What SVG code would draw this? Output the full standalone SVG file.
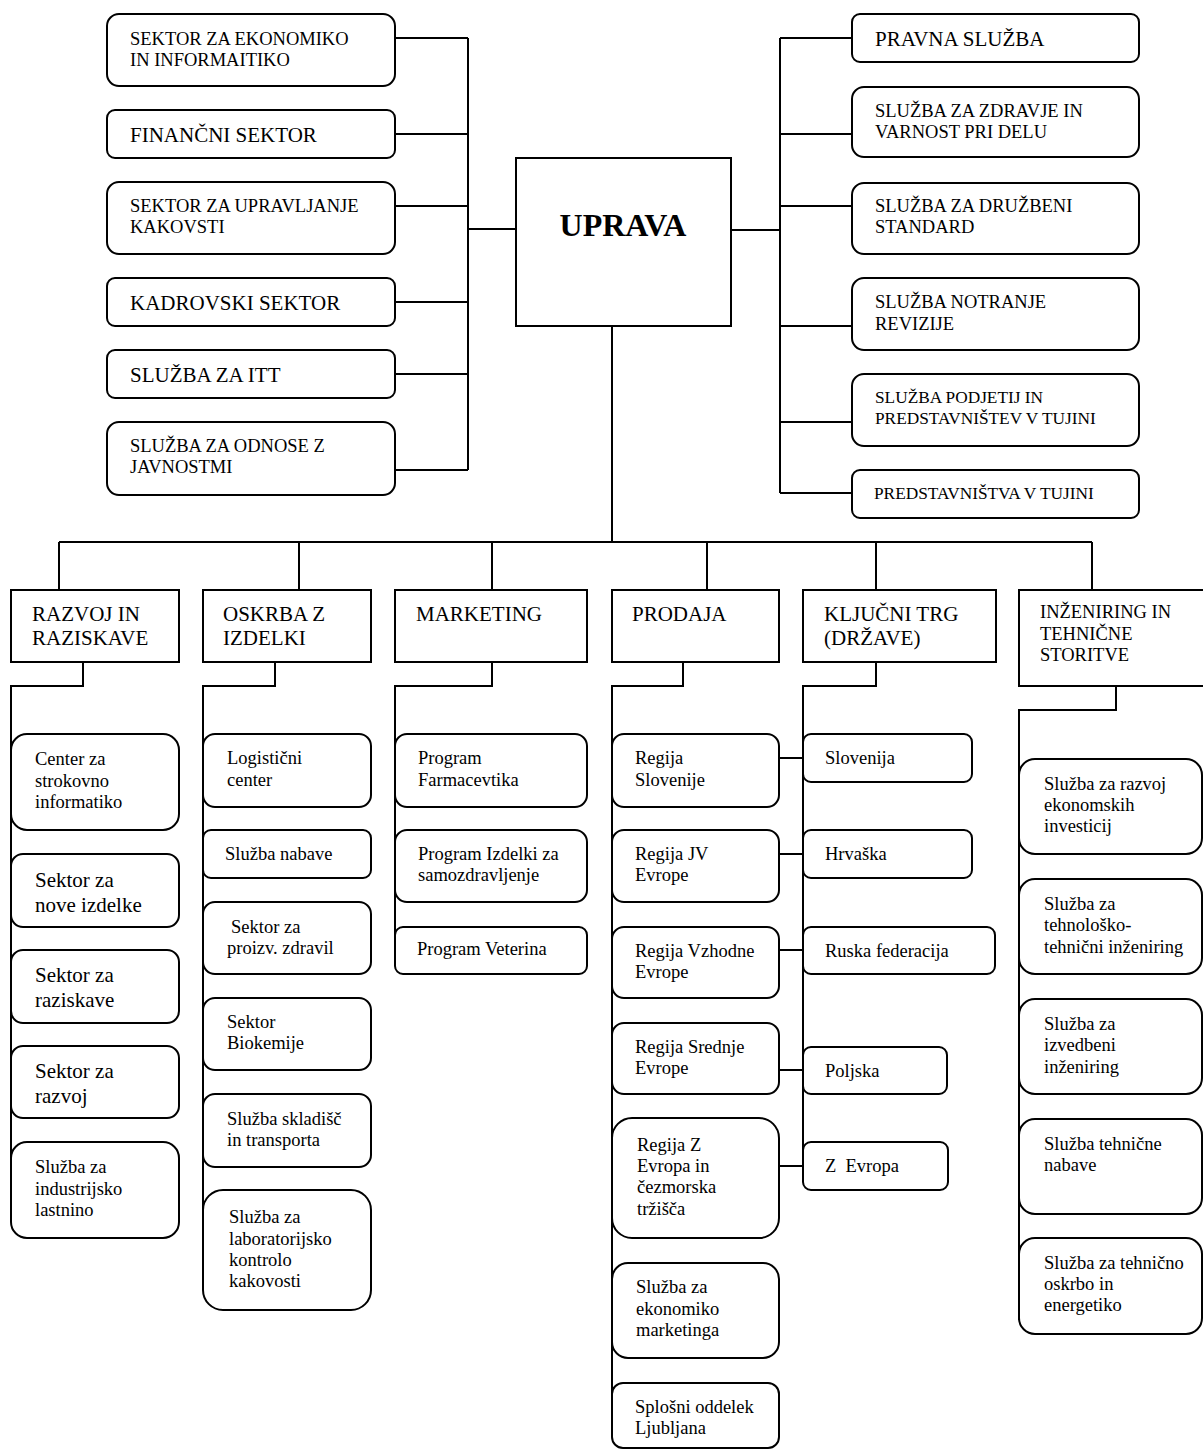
<svg xmlns="http://www.w3.org/2000/svg" width="1203" height="1450" viewBox="0 0 1203 1450">
  <style>
    .box { fill: #fff; stroke: #000; stroke-width: 2; }
    .ln { fill: none; stroke: #000; stroke-width: 2; }
    text { font-family: "Liberation Serif", "Times New Roman", serif; fill: #000; }
    .s { font-size: 18.5px; }
    .m { font-size: 17.3px; }
    .b { font-size: 21px; }
    .top { font-size: 32px; font-weight: bold; text-anchor: middle; }
  </style>
  <rect width="1203" height="1450" fill="#fff"/>

  <!-- connectors -->
  <g id="connectors" class="ln">
    <!-- left staff bus -->
    <polyline points="395,38 468,38"/>
    <polyline points="395,134 468,134"/>
    <polyline points="395,206 468,206"/>
    <polyline points="395,302 468,302"/>
    <polyline points="395,374 468,374"/>
    <polyline points="395,470 468,470"/>
    <polyline points="468,38 468,470"/>
    <polyline points="468,229 516,229"/>
    <!-- right staff bus -->
    <polyline points="731,230 780,230"/>
    <polyline points="780,38 780,493"/>
    <polyline points="780,38 852,38"/>
    <polyline points="780,134 852,134"/>
    <polyline points="780,206 852,206"/>
    <polyline points="780,326 852,326"/>
    <polyline points="780,422 852,422"/>
    <polyline points="780,493 852,493"/>
    <!-- main bus to divisions -->
    <polyline points="612,326 612,542"/>
    <polyline points="59,542 1092,542"/>
    <polyline points="59,542 59,590"/>
    <polyline points="299,542 299,590"/>
    <polyline points="492,542 492,590"/>
    <polyline points="707,542 707,590"/>
    <polyline points="876,542 876,590"/>
    <polyline points="1092,542 1092,590"/>
    <!-- division columns -->
    <polyline points="83,662 83,686 11,686 11,1213"/>
    <polyline points="275,662 275,686 203,686 203,1262"/>
    <polyline points="492,662 492,686 395,686 395,950"/>
    <polyline points="683,662 683,686 612,686 612,1430"/>
    <polyline points="876,662 876,686 803,686 803,1167"/>
    <polyline points="1116,686 1116,710 1019,710 1019,1320"/>
    <!-- sales regions to key markets -->
    <polyline points="779,758 803,758"/>
    <polyline points="779,854 803,854"/>
    <polyline points="779,950 803,950"/>
    <polyline points="779,1070 803,1070"/>
    <polyline points="779,1166 803,1166"/>
  </g>

  <!-- management -->
  <g id="uprava">
    <rect class="box" x="516" y="158" width="215" height="168"/>
    <text class="top" x="623" y="236">UPRAVA</text>
  </g>

  <!-- staff units, left -->
  <g id="sektor-ekonomika">
    <rect class="box" x="107" y="14" width="288" height="72" rx="12"/>
    <text class="s"><tspan x="130" y="45">SEKTOR ZA EKONOMIKO</tspan><tspan x="130" y="66">IN INFORMAITIKO</tspan></text>
  </g>
  <g id="financni-sektor">
    <rect class="box" x="107" y="110" width="288" height="48" rx="8"/>
    <text class="b" x="130" y="142">FINANČNI SEKTOR</text>
  </g>
  <g id="sektor-kakovost">
    <rect class="box" x="107" y="182" width="288" height="72" rx="12"/>
    <text class="s"><tspan x="130" y="212">SEKTOR ZA UPRAVLJANJE</tspan><tspan x="130" y="233">KAKOVSTI</tspan></text>
  </g>
  <g id="kadrovski-sektor">
    <rect class="box" x="107" y="278" width="288" height="48" rx="8"/>
    <text class="b" x="130" y="310">KADROVSKI SEKTOR</text>
  </g>
  <g id="sluzba-itt">
    <rect class="box" x="107" y="350" width="288" height="48" rx="8"/>
    <text class="b" x="130" y="382">SLUŽBA ZA ITT</text>
  </g>
  <g id="sluzba-javnost">
    <rect class="box" x="107" y="422" width="288" height="73" rx="12"/>
    <text class="s"><tspan x="130" y="452">SLUŽBA ZA ODNOSE Z</tspan><tspan x="130" y="473">JAVNOSTMI</tspan></text>
  </g>

  <!-- staff units, right -->
  <g id="pravna-sluzba">
    <rect class="box" x="852" y="14" width="287" height="48" rx="8"/>
    <text class="b" x="875" y="46">PRAVNA SLUŽBA</text>
  </g>
  <g id="sluzba-zdravje">
    <rect class="box" x="852" y="87" width="287" height="70" rx="12"/>
    <text class="s"><tspan x="875" y="117">SLUŽBA ZA ZDRAVJE IN</tspan><tspan x="875" y="138">VARNOST PRI DELU</tspan></text>
  </g>
  <g id="sluzba-standard">
    <rect class="box" x="852" y="183" width="287" height="71" rx="12"/>
    <text class="s"><tspan x="875" y="212">SLUŽBA ZA DRUŽBENI</tspan><tspan x="875" y="233">STANDARD</tspan></text>
  </g>
  <g id="sluzba-revizija">
    <rect class="box" x="852" y="278" width="287" height="72" rx="12"/>
    <text class="s"><tspan x="875" y="308">SLUŽBA NOTRANJE</tspan><tspan x="875" y="330">REVIZIJE</tspan></text>
  </g>
  <g id="sluzba-podjetij">
    <rect class="box" x="852" y="374" width="287" height="72" rx="12"/>
    <text class="m"><tspan x="875" y="403">SLUŽBA PODJETIJ IN</tspan><tspan x="875" y="424">PREDSTAVNIŠTEV V TUJINI</tspan></text>
  </g>
  <g id="predstavnistva">
    <rect class="box" x="852" y="470" width="287" height="48" rx="8"/>
    <text class="m" x="874" y="499">PREDSTAVNIŠTVA V TUJINI</text>
  </g>

  <!-- divisions -->
  <g id="razvoj">
    <rect class="box" x="11" y="590" width="168" height="72"/>
    <text class="b"><tspan x="32" y="621">RAZVOJ IN</tspan><tspan x="32" y="645">RAZISKAVE</tspan></text>
  </g>
  <g id="oskrba">
    <rect class="box" x="203" y="590" width="168" height="72"/>
    <text class="b"><tspan x="223" y="621">OSKRBA Z</tspan><tspan x="223" y="645">IZDELKI</tspan></text>
  </g>
  <g id="marketing">
    <rect class="box" x="395" y="590" width="192" height="72"/>
    <text class="b" x="416" y="621">MARKETING</text>
  </g>
  <g id="prodaja">
    <rect class="box" x="612" y="590" width="167" height="72"/>
    <text class="b" x="632" y="621">PRODAJA</text>
  </g>
  <g id="kljucni-trg">
    <rect class="box" x="803" y="590" width="193" height="72"/>
    <text class="b"><tspan x="824" y="621">KLJUČNI TRG</tspan><tspan x="824" y="645">(DRŽAVE)</tspan></text>
  </g>
  <g id="inzeniring">
    <rect class="box" x="1019" y="590" width="195" height="96"/>
    <text class="s"><tspan x="1040" y="618">INŽENIRING IN</tspan><tspan x="1040" y="640">TEHNIČNE</tspan><tspan x="1040" y="661">STORITVE</tspan></text>
  </g>

  <!-- RAZVOJ IN RAZISKAVE units -->
  <g id="center-informatika">
    <rect class="box" x="11" y="734" width="168" height="96" rx="16"/>
    <text class="s"><tspan x="35" y="765">Center za</tspan><tspan x="35" y="787">strokovno</tspan><tspan x="35" y="808">informatiko</tspan></text>
  </g>
  <g id="sektor-nove-izdelke">
    <rect class="box" x="11" y="854" width="168" height="73" rx="12"/>
    <text class="b"><tspan x="35" y="887">Sektor za</tspan><tspan x="35" y="912">nove izdelke</tspan></text>
  </g>
  <g id="sektor-raziskave">
    <rect class="box" x="11" y="950" width="168" height="73" rx="12"/>
    <text class="b"><tspan x="35" y="982">Sektor za</tspan><tspan x="35" y="1007">raziskave</tspan></text>
  </g>
  <g id="sektor-razvoj">
    <rect class="box" x="11" y="1046" width="168" height="72" rx="12"/>
    <text class="b"><tspan x="35" y="1078">Sektor za</tspan><tspan x="35" y="1103">razvoj</tspan></text>
  </g>
  <g id="sluzba-lastnina">
    <rect class="box" x="11" y="1142" width="168" height="96" rx="16"/>
    <text class="s"><tspan x="35" y="1173">Služba za</tspan><tspan x="35" y="1195">industrijsko</tspan><tspan x="35" y="1216">lastnino</tspan></text>
  </g>

  <!-- OSKRBA Z IZDELKI units -->
  <g id="logisticni-center">
    <rect class="box" x="203" y="734" width="168" height="73" rx="12"/>
    <text class="s"><tspan x="227" y="764">Logistični</tspan><tspan x="227" y="786">center</tspan></text>
  </g>
  <g id="sluzba-nabave">
    <rect class="box" x="203" y="830" width="168" height="48" rx="8"/>
    <text class="s" x="225" y="860">Služba nabave</text>
  </g>
  <g id="sektor-zdravila">
    <rect class="box" x="203" y="902" width="168" height="72" rx="12"/>
    <text class="s"><tspan x="231" y="933">Sektor za</tspan><tspan x="227" y="954">proizv. zdravil</tspan></text>
  </g>
  <g id="sektor-biokemija">
    <rect class="box" x="203" y="998" width="168" height="72" rx="12"/>
    <text class="s"><tspan x="227" y="1028">Sektor</tspan><tspan x="227" y="1049">Biokemije</tspan></text>
  </g>
  <g id="sluzba-skladisc">
    <rect class="box" x="203" y="1094" width="168" height="73" rx="12"/>
    <text class="s"><tspan x="227" y="1125">Služba skladišč</tspan><tspan x="227" y="1146">in transporta</tspan></text>
  </g>
  <g id="sluzba-laboratorij">
    <rect class="box" x="203" y="1190" width="168" height="120" rx="20"/>
    <text class="s"><tspan x="229" y="1223">Služba za</tspan><tspan x="229" y="1245">laboratorijsko</tspan><tspan x="229" y="1266">kontrolo</tspan><tspan x="229" y="1287">kakovosti</tspan></text>
  </g>

  <!-- MARKETING units -->
  <g id="program-farmacevtika">
    <rect class="box" x="395" y="734" width="192" height="73" rx="12"/>
    <text class="s"><tspan x="418" y="764">Program</tspan><tspan x="418" y="786">Farmacevtika</tspan></text>
  </g>
  <g id="program-izdelki">
    <rect class="box" x="395" y="830" width="192" height="72" rx="12"/>
    <text class="s"><tspan x="418" y="860">Program Izdelki za</tspan><tspan x="418" y="881">samozdravljenje</tspan></text>
  </g>
  <g id="program-veterina">
    <rect class="box" x="395" y="927" width="192" height="47" rx="8"/>
    <text class="s" x="417" y="955">Program Veterina</text>
  </g>

  <!-- PRODAJA units -->
  <g id="regija-slovenije">
    <rect class="box" x="612" y="734" width="167" height="73" rx="12"/>
    <text class="s"><tspan x="635" y="764">Regija</tspan><tspan x="635" y="786">Slovenije</tspan></text>
  </g>
  <g id="regija-jv-evrope">
    <rect class="box" x="612" y="830" width="167" height="72" rx="12"/>
    <text class="s"><tspan x="635" y="860">Regija JV</tspan><tspan x="635" y="881">Evrope</tspan></text>
  </g>
  <g id="regija-vzhodne-evrope">
    <rect class="box" x="612" y="927" width="167" height="71" rx="12"/>
    <text class="s"><tspan x="635" y="957">Regija Vzhodne</tspan><tspan x="635" y="978">Evrope</tspan></text>
  </g>
  <g id="regija-srednje-evrope">
    <rect class="box" x="612" y="1023" width="167" height="71" rx="12"/>
    <text class="s"><tspan x="635" y="1053">Regija Srednje</tspan><tspan x="635" y="1074">Evrope</tspan></text>
  </g>
  <g id="regija-z-evropa">
    <rect class="box" x="612" y="1118" width="167" height="120" rx="20"/>
    <text class="s"><tspan x="637" y="1151">Regija Z</tspan><tspan x="637" y="1172">Evropa in</tspan><tspan x="637" y="1193">čezmorska</tspan><tspan x="637" y="1215">tržišča</tspan></text>
  </g>
  <g id="sluzba-ekonomika-marketinga">
    <rect class="box" x="612" y="1263" width="167" height="95" rx="16"/>
    <text class="s"><tspan x="636" y="1293">Služba za</tspan><tspan x="636" y="1315">ekonomiko</tspan><tspan x="636" y="1336">marketinga</tspan></text>
  </g>
  <g id="splosni-oddelek">
    <rect class="box" x="612" y="1383" width="167" height="65" rx="11"/>
    <text class="s"><tspan x="635" y="1413">Splošni oddelek</tspan><tspan x="635" y="1434">Ljubljana</tspan></text>
  </g>

  <!-- KLJUČNI TRG units -->
  <g id="slovenija">
    <rect class="box" x="803" y="734" width="169" height="48" rx="8"/>
    <text class="s" x="825" y="764">Slovenija</text>
  </g>
  <g id="hrvaska">
    <rect class="box" x="803" y="830" width="169" height="48" rx="8"/>
    <text class="s" x="825" y="860">Hrvaška</text>
  </g>
  <g id="ruska-federacija">
    <rect class="box" x="803" y="927" width="192" height="47" rx="8"/>
    <text class="s" x="825" y="957">Ruska federacija</text>
  </g>
  <g id="poljska">
    <rect class="box" x="803" y="1047" width="144" height="47" rx="8"/>
    <text class="s" x="825" y="1077">Poljska</text>
  </g>
  <g id="z-evropa">
    <rect class="box" x="803" y="1142" width="145" height="48" rx="8"/>
    <text class="s" x="825" y="1172" xml:space="preserve">Z  Evropa</text>
  </g>

  <!-- INŽENIRING units -->
  <g id="sluzba-investicije">
    <rect class="box" x="1019" y="759" width="183" height="95" rx="16"/>
    <text class="s"><tspan x="1044" y="790">Služba za razvoj</tspan><tspan x="1044" y="811">ekonomskih</tspan><tspan x="1044" y="832">investicij</tspan></text>
  </g>
  <g id="sluzba-tehnoloski-inzeniring">
    <rect class="box" x="1019" y="879" width="183" height="95" rx="16"/>
    <text class="s"><tspan x="1044" y="910">Služba za</tspan><tspan x="1044" y="931">tehnološko-</tspan><tspan x="1044" y="953">tehnični inženiring</tspan></text>
  </g>
  <g id="sluzba-izvedbeni-inzeniring">
    <rect class="box" x="1019" y="999" width="183" height="95" rx="16"/>
    <text class="s"><tspan x="1044" y="1030">Služba za</tspan><tspan x="1044" y="1051">izvedbeni</tspan><tspan x="1044" y="1073">inženiring</tspan></text>
  </g>
  <g id="sluzba-tehnicne-nabave">
    <rect class="box" x="1019" y="1119" width="183" height="95" rx="16"/>
    <text class="s"><tspan x="1044" y="1150">Služba tehnične</tspan><tspan x="1044" y="1171">nabave</tspan></text>
  </g>
  <g id="sluzba-energetika">
    <rect class="box" x="1019" y="1238" width="183" height="96" rx="16"/>
    <text class="s"><tspan x="1044" y="1269">Služba za tehnično</tspan><tspan x="1044" y="1290">oskrbo in</tspan><tspan x="1044" y="1311">energetiko</tspan></text>
  </g>
</svg>
